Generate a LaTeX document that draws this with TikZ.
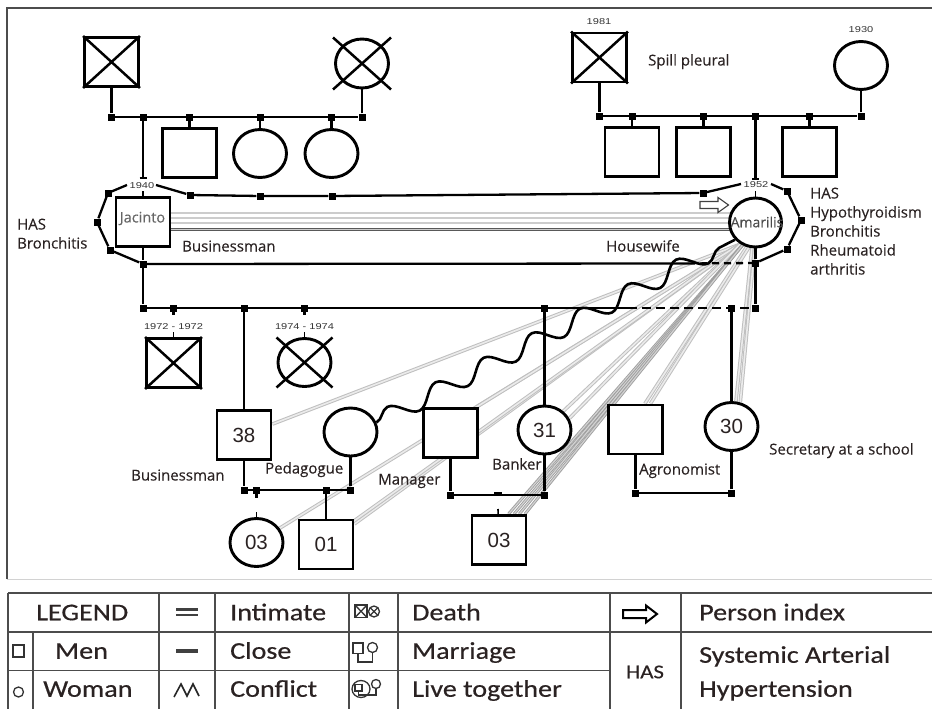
\documentclass[tikz,border=0pt]{standalone}
\usepackage{fontspec}
\setmainfont{Open Sans}
\newfontfamily\lbfont[FakeBold=0.3]{Open Sans}
\newfontfamily\lgfont[FakeStretch=1.17,FakeBold=0.5]{Carlito}
\newfontfamily\nmfont{Liberation Sans}
\newfontfamily\yrfont[FakeStretch=1.3]{Liberation Sans}
\usetikzlibrary{shapes.geometric,decorations.pathmorphing,arrows.meta}
\pgfdeclarelayer{bg}
\pgfsetlayers{bg,main}
\definecolor{txt}{HTML}{2A2222}
\begin{document}
\begin{tikzpicture}[x=1pt,y=-1pt,
  male/.style={rectangle,draw,line width=2.9pt,fill=white,minimum width=54pt,minimum height=49pt,inner sep=0pt},
  female/.style={ellipse,draw,line width=2.9pt,fill=white,minimum width=53pt,minimum height=48pt,inner sep=0pt},
  dot/.style={rectangle,fill=black,inner sep=0pt,minimum size=7pt},
  kin/.style={line width=2.8pt},
  encl/.style={line width=2.3pt},
  xline/.style={line width=2.5pt},
  tick/.style={line width=1.6pt},
  yr/.style={font=\yrfont\fontsize{8.5}{9}\selectfont,text=black!80,inner sep=0.5pt},
  lbl/.style={font=\lbfont\fontsize{15}{19}\selectfont,text=txt,anchor=west,inner sep=0pt,text height=11pt,text depth=0pt},
  num/.style={font=\nmfont\fontsize{20.5}{22}\selectfont,text=txt},
  lg/.style={font=\lgfont\fontsize{24}{28}\selectfont,text=txt,anchor=west,inner sep=0pt,text height=15.5pt,text depth=0pt},
  fan/.style={draw=gray!50,line width=1pt,double=white!92!black,double distance=1.6pt},
  fandk/.style={draw=gray!75,line width=0.9pt,double=gray!35,double distance=1.2pt},
  intim/.style={draw=black!65,line width=0.9pt,double=gray!40,double distance=1.1pt},
  grid/.style={draw=black!70,line width=1.4pt},
  sym/.style={line width=1.3pt,draw=black!80}
]
\useasboundingbox (0,0) rectangle (932,709);

% frame
\draw[draw=black!70,line width=1.5pt] (7,579) -- (7,8) -- (932,8);
\draw[draw=gray!35,line width=1pt] (7,579.5) -- (932,579.5);

% persons
\node[male] (gf1) at (111.5,62) {};
\node[female,minimum height=49pt] (gm1) at (362,63.5) {};
\node[male] (c1) at (189.5,153) {};
\node[female] (c2) at (260,153.5) {};
\node[female] (c3) at (331.5,153.5) {};
\node[male] (gf2) at (599.5,57.5) {};
\node[female] (gm2) at (861,65.5) {};
\node[male] (c4) at (632,152) {};
\node[male] (c5) at (703.5,152) {};
\node[male] (c6) at (809.5,152) {};
\node[male] (jac) at (143,222) {};
\node[female,minimum width=52pt,minimum height=49pt] (ama) at (755.5,222.5) {};
\node[male] (ds) at (173.5,363) {};
\node[female] (dd) at (304.5,362.5) {};
\node[male,num] (son38) at (244,435) {38};
\node[female] (ped) at (350.5,432) {};
\node[male] (man) at (450.5,433) {};
\node[female,num] (dau31) at (544.5,430) {31};
\node[male] (agr) at (635.5,429.5) {};
\node[female,num] (dau30) at (731.5,426.5) {30};
\node[female,num] (gc1) at (256.5,542.5) {03};
\node[male,num] (gc2) at (326,544.5) {01};
\node[male,num] (gc3) at (499,540) {03};

% deceased marks
\draw[xline] (gf1.north west) -- (gf1.south east) (gf1.north east) -- (gf1.south west);
\draw[xline] (gf2.north west) -- (gf2.south east) (gf2.north east) -- (gf2.south west);
\draw[xline] (ds.north west) -- (ds.south east) (ds.north east) -- (ds.south west);
\draw[xline] ([shift={(-29,-26)}]gm1.center) -- ([shift={(29,26)}]gm1.center)
             ([shift={(29,-26)}]gm1.center) -- ([shift={(-29,26)}]gm1.center);
\draw[xline] ([shift={(-28,-25)}]dd.center) -- ([shift={(28,25)}]dd.center)
             ([shift={(28,-25)}]dd.center) -- ([shift={(-28,25)}]dd.center);

% dots
\foreach \n/\x/\y in {d1a/111.5/117, d1b/143/117, d1c/189.5/117, d1d/260/117, d1e/331.5/117, d1f/362/117,
  d2a/599.5/116, d2b/632/116, d2c/703.5/116, d2d/755.5/116, d2e/809.5/116, d2f/861/116,
  e1/108/193, e2/190/195, e3/260/196, e4/332/196, e5/703/193, e6/787/191, e7/801/220, e8/787/249,
  e9/755.5/263, e10/143/264, e11/110/250, e12/97/222,
  s1/143/308, s2/173.5/308, s3/244/308, s4/304.5/308, s5/544.5/308, s6/731.5/308, s7/755.5/308,
  m1a/244/490, m1b/256.5/490, m1c/326/490, m1d/350.5/490, m2a/450.5/495, m2b/544.5/495,
  m3a/635.5/493, m3b/731.5/493}
  \node[dot] (\n) at (\x,\y) {};
\node[rectangle,fill=black,inner sep=0pt,minimum width=8pt,minimum height=3pt] (m2c) at (498,493.5) {};

% free ends
\coordinate (jtop) at (143,178); \coordinate (jtk) at (143,191);
\coordinate (atop) at (755.5,179); \coordinate (atk) at (755.5,191);
\coordinate (el1) at (127,185); \coordinate (er1) at (156,185);
\coordinate (el2) at (741,184); \coordinate (er2) at (771,184);
\coordinate (bd) at (688,263.5); \coordinate (sd) at (628,308);
\coordinate (dst) at (173.5,315); \coordinate (dsk) at (173.5,332);
\coordinate (ddt) at (304.5,315); \coordinate (ddk) at (304.5,332);
\coordinate (g1t) at (256.5,498); \coordinate (g1k) at (256.5,512);
\coordinate (g3k) at (498,509);

% year labels
\node[yr] (y1940) at (142,185.5) {1940};
\node[yr] (y1952) at (756,184.5) {1952};
\node[yr] (y1981) at (599,21.5) {1981};
\node[yr] (y1930) at (861,29.5) {1930};
\node[yr] (y1972) at (173.5,326.5) {1972 - 1972};
\node[yr] (y1974) at (304.5,326.5) {1974 - 1974};

% background relation lines
\begin{pgfonlayer}{bg}
  \foreach \yy in {213,218,223,229.5}
    \draw[intim] (jac.center |- 0,\yy) -- (ama.center |- 0,\yy);
  \foreach \t in {son38, gc1, gc2, gc2.40, man.45, dau31.45, dau31.25}
    \draw[fan] (ama.235) -- (\t);
  \draw[fan] (ama.250) -- (agr.70);
  \draw[fan] (ama.255) -- (agr.60);
  \draw[fan] (ama.262) -- (dau30.80);
  \draw[fan] (ama.268) -- (dau30.70);
  \foreach \a in {70,60,52,45}
    \draw[fandk] (ama.240) -- (gc3.\a);
\end{pgfonlayer}

% kinship lines
\draw[kin] (gf1) -- (d1a) -- (d1f) -- (gm1);
\draw[kin] (d1c) -- (c1) (d1d) -- (c2) (d1e) -- (c3);
\draw[kin] (d1b) -- (jtop);
\draw[tick] ([xshift=-3.5pt]jtop) -- ([xshift=3.5pt]jtop);
\draw[tick] (jtk) -- (jac);
\draw[kin] (gf2) -- (d2a) -- (d2f) -- (gm2);
\draw[kin] (d2b) -- (c4) (d2c) -- (c5) (d2e) -- (c6);
\draw[kin] (d2d) -- (atop);
\draw[tick] ([xshift=-3.5pt]atop) -- ([xshift=3.5pt]atop);
\draw[tick] (atk) -- (ama);

% live-together enclosure
\draw[encl] (e1) -- (el1);
\draw[encl] (er1) -- (e2) -- (e3) -- (e4) -- (e5) -- (el2);
\draw[encl] (er2) -- (e6) -- (e7) -- (e8) -- (e9);
\draw[encl] (e10) -- (bd);
\draw[encl,dash pattern=on 7pt off 5pt] (bd) -- (e9);
\draw[encl] (e10) -- (e11) -- (e12) -- (e1);
\draw[kin] (jac) -- (e10) -- (s1);
\draw[kin] (ama) -- (e9) -- (s7);

% sibship of the couple
\draw[kin] (s1) -- (sd);
\draw[kin,dash pattern=on 9pt off 5pt] (sd) -- (s7);
\draw[kin] (s2) -- (dst);
\draw[tick] (dsk) -- (ds);
\draw[kin] (s4) -- (ddt);
\draw[tick] (ddk) -- (dd);
\draw[kin] (s3) -- (son38) (s5) -- (dau31) (s6) -- (dau30);

% marriages
\draw[kin] (son38) -- (m1a) -- (m1d) -- (ped);
\draw[kin] (m1b) -- (g1t);
\draw[tick] (g1k) -- (gc1);
\draw[kin] (m1c) -- (gc2);
\draw[kin] (man) -- (m2a) -- (m2b) -- (dau31);
\draw[tick] (g3k) -- (gc3);
\draw[kin] (agr) -- (m3a) -- (m3b) -- (dau30);

% conflict
\draw[line width=2.6pt,decorate,decoration={snake,segment length=54pt,amplitude=9pt,post length=10pt}] (ped.20) -- (ama.220);

% index arrow
\draw[line width=1.1pt,draw=black!75,fill=white] (700,201.5) -- (718,201.5) -- (718,197.5) -- (728.5,205) -- (718,212.5) -- (718,208.5) -- (700,208.5) -- cycle;

% names
\node[font=\lbfont\fontsize{14.5}{16}\selectfont,text=black!60,inner sep=0pt] (jt) at (142.5,218.5) {Jacinto};
\node[font=\lbfont\fontsize{14}{16}\selectfont,text=black!70,inner sep=0pt] (at) at (757,222) {Amarilis};

% labels
\node[lbl] (l1) at (17,224) {HAS};
\node[lbl] (l2) at (17,243) {Bronchitis};
\node[lbl] (l3) at (182,246) {Businessman};
\node[lbl] (l4) at (606,246) {Housewife};
\node[lbl] (l5) at (648,60) {Spill pleural};
\node[lbl] (l6) at (810,193) {HAS};
\node[lbl] (l7) at (810,212) {Hypothyroidism};
\node[lbl] (l8) at (810,231) {Bronchitis};
\node[lbl] (l9) at (810,250) {Rheumatoid};
\node[lbl] (l10) at (810,269) {arthritis};
\node[lbl] (l11) at (131,475) {Businessman};
\node[lbl] (l12) at (265,468) {Pedagogue};
\node[lbl] (l13) at (378,479) {Manager};
\node[lbl] (l14) at (492,464) {Banker};
\node[lbl] (l15) at (639,469) {Agronomist};
\node[lbl] (l16) at (769,449) {Secretary at a school};

% legend table
\draw[grid] (8,593) -- (932,593);
\draw[grid] (8,632) -- (932,632);
\draw[grid] (8,670.5) -- (610,670.5);
\foreach \x in {8,159,215,349,398,610,681} \draw[grid] (\x,593) -- (\x,709);
\draw[grid] (33,632) -- (33,709);

\node[lg] (t1) at (36,612.5) {LEGEND};
\node[lg] (t2) at (55,651) {Men};
\node[lg] (t3) at (43,689) {Woman};
\node[lg] (t4) at (230,612.5) {Intimate};
\node[lg] (t5) at (230,651) {Close};
\node[lg] (t6) at (230,689) {Conflict};
\node[lg] (t7) at (412,612.5) {Death};
\node[lg] (t8) at (412,651) {Marriage};
\node[lg] (t9) at (412,689) {Live together};
\node[lg] (t10) at (699,612.5) {Person index};
\node[lg] (t11) at (699,655) {Systemic Arterial};
\node[lg] (t12) at (699,689) {Hypertension};
\node[lg,anchor=center,font=\lgfont\fontsize{19.5}{22}\selectfont,text height=12.5pt] (t13) at (645,672) {HAS};

% legend symbols
\draw[sym] (13,645) rectangle (24,657);
\draw[sym] (18.5,692) circle[radius=5pt];
\draw[line width=2.5pt,black!75] (176,609.5) -- (198,609.5) (176,615) -- (198,615);
\draw[line width=4pt,black!75] (176,650.5) -- (198,650.5);
\draw[line width=1.6pt,black!85] (174,697) -- (181,684) -- (187,696) -- (193,684) -- (199,696);
\draw[sym] (355,605) rectangle (367,617.5);
\draw[sym] (355,605) -- (367,617.5) (355,617.5) -- (367,605);
\draw[sym] (374,611.5) circle[radius=5.5pt];
\draw[sym] (370,607.5) -- (378,615.5) (370,615.5) -- (378,607.5);
\draw[sym] (353,643) rectangle (363,653.5);
\draw[sym] (372.5,647.5) circle[radius=5pt];
\draw[sym] (358,653.5) -- (358,662) -- (372.5,662) -- (372.5,652.5);
\draw[sym] (361,689) ellipse[x radius=9pt,y radius=8.5pt];
\draw[sym] (355,684.5) rectangle (362,691);
\draw[sym] (376,684) circle[radius=4.5pt];
\draw[sym] (358.5,691) -- (358.5,695) -- (376,695) -- (376,688.5);
\draw[line width=2pt] (623,610) -- (646,610) -- (646,605.5) -- (657,614) -- (646,622.5) -- (646,618) -- (623,618) -- cycle;
\end{tikzpicture}
\end{document}
